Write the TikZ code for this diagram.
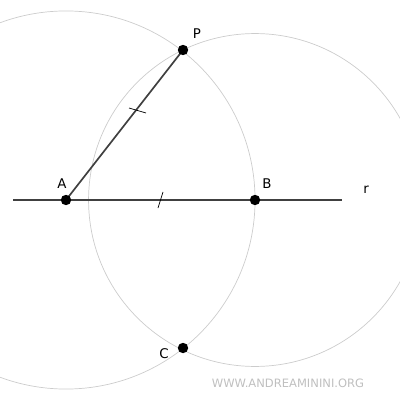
\documentclass[tikz,border=0pt]{standalone}
\usepackage{fontspec}
\setmainfont{DejaVu Sans}
\begin{document}
\begin{tikzpicture}[x=0.025cm,y=-0.025cm,font=\fontsize{9.5}{10}\selectfont]
      \useasboundingbox (0,0) rectangle (400,400);

      \coordinate (A) at (66,200);
      \coordinate (B) at (255,200);
      \coordinate (P) at (183,50);
      \coordinate (C) at (183,348);
      \coordinate (r0) at (13,200);
      \coordinate (r1) at (342,200);

      \draw[black!20,line width=0.5pt] (A) circle[radius=4.725cm];
      \draw[black!20,line width=0.5pt] (B) circle[radius=4.16cm];

      \draw[black!75,line width=1.2pt] (r0) -- (r1);
      \draw[black!75,line width=1.2pt] (A) -- (P);

      \draw[line width=0.5pt] (129,108) -- (146,113);
      \draw[line width=0.5pt] (163,192) -- (158,208);

      \fill (A) circle[radius=3.7pt] node[at={(62,184)}] {A};
      \fill (B) circle[radius=3.7pt] node[at={(267,184)}] {B};
      \fill (P) circle[radius=3.7pt] node[at={(197,34)}] {P};
      \fill (C) circle[radius=3.7pt] node[at={(164,354)}] {C};
      \node at (366,190) {r};

      \node[black!25,font=\fontsize{8.2}{9}\selectfont] at (288,383) {WWW.ANDREAMININI.ORG};
    \end{tikzpicture}
\end{document}
